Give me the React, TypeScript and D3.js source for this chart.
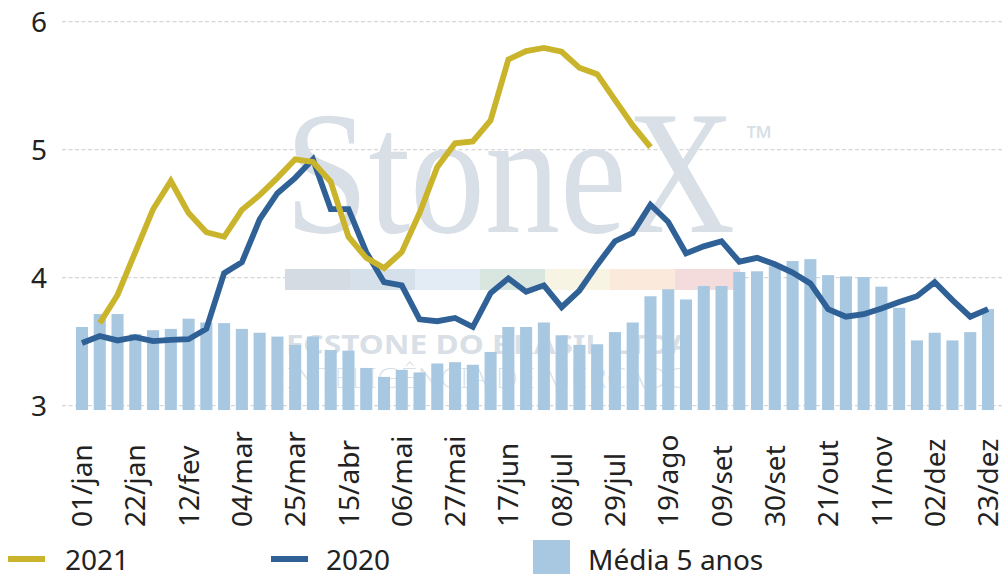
import * as d3 from 'd3'
import { useEffect, useRef } from 'react'

const WEEKS = [
  '01/jan', '08/jan', '15/jan', '22/jan', '29/jan',
  '05/fev', '12/fev', '19/fev', '26/fev',
  '04/mar', '11/mar', '18/mar', '25/mar',
  '01/abr', '08/abr', '15/abr', '22/abr', '29/abr',
  '06/mai', '13/mai', '20/mai', '27/mai',
  '03/jun', '10/jun', '17/jun', '24/jun',
  '01/jul', '08/jul', '15/jul', '22/jul', '29/jul',
  '05/ago', '12/ago', '19/ago', '26/ago',
  '02/set', '09/set', '16/set', '23/set', '30/set',
  '07/out', '14/out', '21/out', '28/out',
  '04/nov', '11/nov', '18/nov', '25/nov',
  '02/dez', '09/dez', '16/dez', '23/dez',
]

// Média 5 anos (bars)
const AVG_5Y = [
  3.615, 3.716, 3.716, 3.56, 3.59, 3.6, 3.68, 3.65, 3.645, 3.6,
  3.57, 3.54, 3.475, 3.54, 3.435, 3.43, 3.295, 3.225, 3.28, 3.26,
  3.33, 3.34, 3.32, 3.42, 3.615, 3.615, 3.65, 3.55, 3.475, 3.48,
  3.575, 3.65, 3.855, 3.91, 3.83, 3.935, 3.935, 4.045, 4.05, 4.09,
  4.13, 4.145, 4.02, 4.01, 4.005, 3.93, 3.765, 3.51, 3.57, 3.51,
  3.575, 3.755,
]

const S2020 = [
  3.49, 3.545, 3.51, 3.535, 3.505, 3.515, 3.52, 3.6, 4.035, 4.12,
  4.455, 4.66, 4.78, 4.925, 4.535, 4.535, 4.2, 3.965, 3.94, 3.675,
  3.66, 3.685, 3.615, 3.88, 3.995, 3.89, 3.94, 3.77, 3.9, 4.1,
  4.285, 4.35, 4.57, 4.435, 4.19, 4.245, 4.285, 4.125, 4.155, 4.105,
  4.04, 3.955, 3.755, 3.695, 3.715, 3.76, 3.81, 3.855, 3.965, 3.825,
  3.695, 3.755,
]

const S2021: (number | null)[] = [
  null, 3.645, 3.865, 4.2, 4.535, 4.755, 4.505, 4.355, 4.32, 4.53,
  4.645, 4.78, 4.925, 4.905, 4.75, 4.32, 4.155, 4.075, 4.2, 4.505,
  4.865, 5.05, 5.065, 5.23, 5.705, 5.77, 5.795, 5.765, 5.64, 5.59,
  5.39, 5.19, 5.02, null, null, null, null, null, null, null,
  null, null, null, null, null, null, null, null, null, null,
  null, null,
]

const Y_TICKS = [3, 4, 5, 6]
const WATERMARK_STRIP = ['#d5dbe2', '#d6e0ea', '#e3ecf5', '#d9e6df', '#f7f4e3', '#fbeadb', '#f5dcdc']

export default function App() {
  const ref = useRef<HTMLDivElement>(null)

  useEffect(() => {
    document.body.style.margin = '0'
    const width = 1004
    const height = 574
    const font = '"Noto Sans", sans-serif'
    const yellow = '#c9b42b'
    const blue = '#2f6197'
    const barColor = '#a8c8e1'

    const idx = WEEKS.map((_, i) => i)
    const step = (988 - 82) / 51
    const x = d3.scaleBand<number>()
      .domain(idx)
      .range([82 - step / 2, 988 + step / 2])
      .paddingInner(0.32)
      .paddingOuter(0.16)
    const cx = (i: number) => (x(i) as number) + x.bandwidth() / 2

    const y = d3.scaleLinear().domain([3, 6]).range([405.7, 21.7])
    const base = 2.966

    const svg = d3.create('svg')
      .attr('width', width)
      .attr('height', height)
      .attr('viewBox', [0, 0, width, height])
      .attr('style', `display:block; background:#fff; font-family:${font};`)

    /* gridlines */
    svg.append('g')
      .selectAll()
      .data(Y_TICKS)
      .join('line')
      .attr('x1', 62)
      .attr('x2', width)
      .attr('y1', (d) => y(d))
      .attr('y2', (d) => y(d))
      .attr('stroke', '#d6d6d6')
      .attr('stroke-width', 1.3)
      .attr('stroke-dasharray', '4,2.5')

    /* watermark */
    const wm = svg.append('g').attr('fill', '#d9dfe6')
    wm.append('text')
      .attr('x', 285)
      .attr('y', 232)
      .attr('font-family', '"Liberation Serif", serif')
      .attr('font-size', 176)
      .attr('textLength', 450)
      .attr('lengthAdjust', 'spacingAndGlyphs')
      .text('StoneX')
    wm.append('text')
      .attr('x', 746)
      .attr('y', 150)
      .attr('font-size', 34)
      .text('™')
    wm.selectAll('rect')
      .data(WATERMARK_STRIP)
      .join('rect')
      .attr('x', (_, i) => 285 + i * 65)
      .attr('y', 269)
      .attr('width', 65)
      .attr('height', 21)
      .attr('fill', (d) => d)
    wm.append('text')
      .attr('x', 286)
      .attr('y', 354)
      .attr('font-size', 27)
      .attr('font-weight', 'bold')
      .attr('textLength', 405)
      .attr('lengthAdjust', 'spacingAndGlyphs')
      .text('FCSTONE DO BRASIL LTDA')
    wm.append('text')
      .attr('x', 286)
      .attr('y', 388)
      .attr('font-size', 27)
      .attr('font-weight', 200)
      .attr('textLength', 405)
      .attr('lengthAdjust', 'spacingAndGlyphs')
      .text('INTELIGÊNCIA DE MERCADO')

    /* bars - Média 5 anos */
    svg.append('g')
      .attr('fill', barColor)
      .selectAll()
      .data(AVG_5Y)
      .join('rect')
      .attr('x', (_, i) => x(i) as number)
      .attr('y', (d) => y(d))
      .attr('width', x.bandwidth())
      .attr('height', (d) => y(base) - y(d))

    /* lines */
    const line = d3.line<number | null>()
      .defined((d) => d != null)
      .x((_, i) => cx(i))
      .y((d) => y(d as number))

    svg.append('path')
      .datum(S2020)
      .attr('fill', 'none')
      .attr('stroke', blue)
      .attr('stroke-width', 5.8)
      .attr('d', line)

    svg.append('path')
      .datum(S2021)
      .attr('fill', 'none')
      .attr('stroke', yellow)
      .attr('stroke-width', 5.8)
      .attr('d', line)

    /* y axis labels */
    svg.append('g')
      .attr('font-size', 28)
      .attr('fill', '#222')
      .attr('text-anchor', 'end')
      .selectAll()
      .data(Y_TICKS)
      .join('text')
      .attr('x', 47)
      .attr('y', (d) => y(d))
      .attr('dy', '0.36em')
      .text((d) => d)

    /* x axis labels, every third week */
    const xAxis = svg.append('g')
      .attr('transform', 'translate(0, 527)')
      .call(
        d3.axisBottom(x)
          .tickValues(idx.filter((i) => i % 3 === 0))
          .tickFormat((i) => WEEKS[i as number])
          .tickSize(0),
      )
    xAxis.select('.domain').remove()
    xAxis.selectAll('text')
      .attr('font-family', font)
      .attr('font-size', 28)
      .attr('fill', '#222')
      .attr('text-anchor', 'start')
      .attr('transform', 'rotate(-90)')
      .attr('x', 0)
      .attr('y', 0)
      .attr('dy', '0.36em')

    /* legend */
    const legend = svg.append('g').attr('font-size', 28).attr('fill', '#222')
    legend.append('rect').attr('x', 8).attr('y', 556).attr('width', 37).attr('height', 6).attr('fill', yellow)
    legend.append('text').attr('x', 65).attr('y', 570).text('2021')
    legend.append('rect').attr('x', 271).attr('y', 556).attr('width', 37).attr('height', 6).attr('fill', blue)
    legend.append('text').attr('x', 326).attr('y', 570).text('2020')
    legend.append('rect').attr('x', 533).attr('y', 540).attr('width', 37).attr('height', 40).attr('fill', barColor)
    legend.append('text').attr('x', 588).attr('y', 570).text('Média 5 anos')

    const node = svg.node()
    if (ref.current && node) {
      ref.current.innerHTML = ''
      ref.current.appendChild(node)
    }
  }, [])

  return <div ref={ref} />
}
